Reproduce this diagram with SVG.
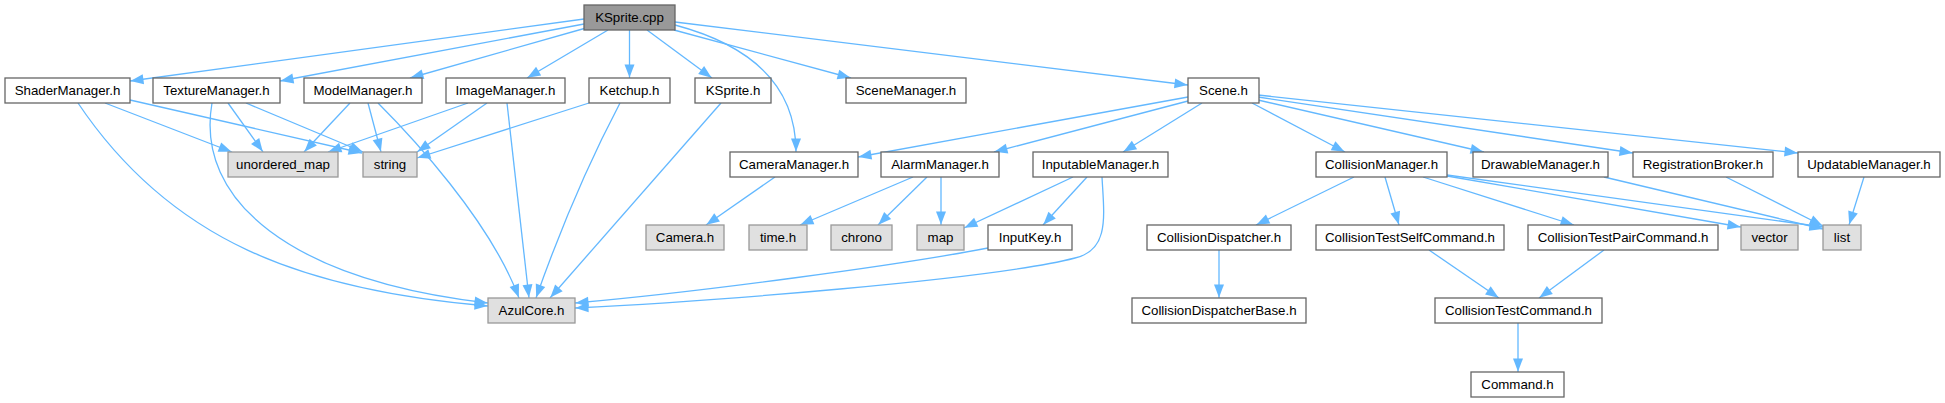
<svg xmlns="http://www.w3.org/2000/svg" width="1945" height="403" viewBox="0 0 1945 403">
<defs>
<style>
.n rect{fill:#fff;stroke:#666;stroke-width:1.3}
.g rect{fill:#e0e0e0;stroke:#999;stroke-width:1.3}
.m rect{fill:#999;stroke:#666;stroke-width:1.3}
text{font-family:"Liberation Sans",Arial,sans-serif;font-size:13.3px;fill:#000;text-anchor:middle}
#edges path{fill:none;stroke:#63b8ff;stroke-width:1.3;marker-end:url(#a)}
</style>
<marker id="a" markerWidth="14" markerHeight="10" refX="13.5" refY="5" orient="auto" markerUnits="userSpaceOnUse" overflow="visible"><path d="M0,0 L13,5 L0,10 z" fill="#63b8ff"/></marker>
</defs>
<rect width="1945" height="403" fill="#fff"/>
<g id="edges">
<path d="M584,19 L130,81"/>
<path d="M584,24 L280,81"/>
<path d="M586,28 L410,78"/>
<path d="M608,30 L527,78"/>
<path d="M629.5,30 L629.5,78"/>
<path d="M647,30 L712,78"/>
<path d="M675,25 C750,45 796,85 796,152"/>
<path d="M674,30 L851,78"/>
<path d="M675,22 L1188,85"/>
<path d="M105,103 L232,152"/>
<path d="M130,100 L362,153"/>
<path d="M78,103 C170,240 300,290 488,306"/>
<path d="M228,103 L263,152"/>
<path d="M246,103 L363,152"/>
<path d="M212,103 C195,200 290,280 488,303"/>
<path d="M350,103 L304,152"/>
<path d="M368,103 L381,152"/>
<path d="M378,103 C410,135 490,220 519,298"/>
<path d="M468,103 L328,152"/>
<path d="M487,103 L417,152"/>
<path d="M507,103 L529,298"/>
<path d="M589,103 L417,158"/>
<path d="M620,103 C590,160 560,230 536,298"/>
<path d="M721,103 L550,298"/>
<path d="M1188,97 L858,157"/>
<path d="M1188,101 L994,152"/>
<path d="M1202,103 L1123,152"/>
<path d="M1252,103 L1345,152"/>
<path d="M1258,100 L1484,152"/>
<path d="M1258,97 L1633,153"/>
<path d="M1258,95 L1798,153"/>
<path d="M775,177 L706,225"/>
<path d="M913,177 L800,225"/>
<path d="M927,177 L878,225"/>
<path d="M941,177 L941,225"/>
<path d="M1073,177 L964,228"/>
<path d="M1087,177 L1043,225"/>
<path d="M1102,177 C1104,215 1110,250 1075,258 C990,280 700,302 575,308"/>
<path d="M988,248 C900,265 700,292 575,303"/>
<path d="M1354,177 L1256,225"/>
<path d="M1385,177 L1399,225"/>
<path d="M1423,177 L1574,225"/>
<path d="M1447,176 L1741,227"/>
<path d="M1447,175 L1823,227"/>
<path d="M1604,177 L1823,229"/>
<path d="M1726,177 L1823,226"/>
<path d="M1864,177 L1849,225"/>
<path d="M1219,250 L1219,298"/>
<path d="M1429,250 L1499,298"/>
<path d="M1604,250 L1539,298"/>
<path d="M1518,323 L1518,372"/>
</g>
<g id="KSprite_cpp" class="m"><rect x="584" y="5" width="91" height="25"/><text x="629.5" y="22">KSprite.cpp</text></g>
<g id="ShaderManager_h" class="n"><rect x="5" y="78" width="125" height="25"/><text x="67.5" y="95">ShaderManager.h</text></g>
<g id="TextureManager_h" class="n"><rect x="153" y="78" width="127" height="25"/><text x="216.5" y="95">TextureManager.h</text></g>
<g id="ModelManager_h" class="n"><rect x="304" y="78" width="118" height="25"/><text x="363" y="95">ModelManager.h</text></g>
<g id="ImageManager_h" class="n"><rect x="446" y="78" width="119" height="25"/><text x="505.5" y="95">ImageManager.h</text></g>
<g id="Ketchup_h" class="n"><rect x="589" y="78" width="81" height="25"/><text x="629.5" y="95">Ketchup.h</text></g>
<g id="KSprite_h" class="n"><rect x="695" y="78" width="76" height="25"/><text x="733" y="95">KSprite.h</text></g>
<g id="SceneManager_h" class="n"><rect x="846" y="78" width="120" height="25"/><text x="906" y="95">SceneManager.h</text></g>
<g id="Scene_h" class="n"><rect x="1188" y="78" width="71" height="25"/><text x="1223.5" y="95">Scene.h</text></g>
<g id="unordered_map" class="g"><rect x="228" y="152" width="110" height="25"/><text x="283" y="169">unordered_map</text></g>
<g id="string" class="g"><rect x="363" y="152" width="54" height="25"/><text x="390" y="169">string</text></g>
<g id="CameraManager_h" class="n"><rect x="730" y="152" width="128" height="25"/><text x="794" y="169">CameraManager.h</text></g>
<g id="AlarmManager_h" class="n"><rect x="881" y="152" width="118" height="25"/><text x="940" y="169">AlarmManager.h</text></g>
<g id="InputableManager_h" class="n"><rect x="1033" y="152" width="135" height="25"/><text x="1100.5" y="169">InputableManager.h</text></g>
<g id="CollisionManager_h" class="n"><rect x="1316" y="152" width="131" height="25"/><text x="1381.5" y="169">CollisionManager.h</text></g>
<g id="DrawableManager_h" class="n"><rect x="1473" y="152" width="135" height="25"/><text x="1540.5" y="169">DrawableManager.h</text></g>
<g id="RegistrationBroker_h" class="n"><rect x="1633" y="152" width="140" height="25"/><text x="1703" y="169">RegistrationBroker.h</text></g>
<g id="UpdatableManager_h" class="n"><rect x="1798" y="152" width="142" height="25"/><text x="1869" y="169">UpdatableManager.h</text></g>
<g id="Camera_h" class="g"><rect x="646" y="225" width="78" height="25"/><text x="685" y="242">Camera.h</text></g>
<g id="time_h" class="g"><rect x="749" y="225" width="58" height="25"/><text x="778" y="242">time.h</text></g>
<g id="chrono" class="g"><rect x="831" y="225" width="61" height="25"/><text x="861.5" y="242">chrono</text></g>
<g id="map" class="g"><rect x="917" y="225" width="47" height="25"/><text x="940.5" y="242">map</text></g>
<g id="InputKey_h" class="n"><rect x="988" y="225" width="84" height="25"/><text x="1030" y="242">InputKey.h</text></g>
<g id="CollisionDispatcher_h" class="n"><rect x="1147" y="225" width="144" height="25"/><text x="1219" y="242">CollisionDispatcher.h</text></g>
<g id="CollisionTestSelfCommand_h" class="n"><rect x="1316" y="225" width="188" height="25"/><text x="1410" y="242">CollisionTestSelfCommand.h</text></g>
<g id="CollisionTestPairCommand_h" class="n"><rect x="1528" y="225" width="190" height="25"/><text x="1623" y="242">CollisionTestPairCommand.h</text></g>
<g id="vector" class="g"><rect x="1741" y="225" width="57" height="25"/><text x="1769.5" y="242">vector</text></g>
<g id="list" class="g"><rect x="1823" y="225" width="38" height="25"/><text x="1842" y="242">list</text></g>
<g id="AzulCore_h" class="g"><rect x="488" y="298" width="87" height="25"/><text x="531.5" y="315">AzulCore.h</text></g>
<g id="CollisionDispatcherBase_h" class="n"><rect x="1132" y="298" width="174" height="25"/><text x="1219" y="315">CollisionDispatcherBase.h</text></g>
<g id="CollisionTestCommand_h" class="n"><rect x="1435" y="298" width="167" height="25"/><text x="1518.5" y="315">CollisionTestCommand.h</text></g>
<g id="Command_h" class="n"><rect x="1471" y="372" width="93" height="25"/><text x="1517.5" y="389">Command.h</text></g>
</svg>
